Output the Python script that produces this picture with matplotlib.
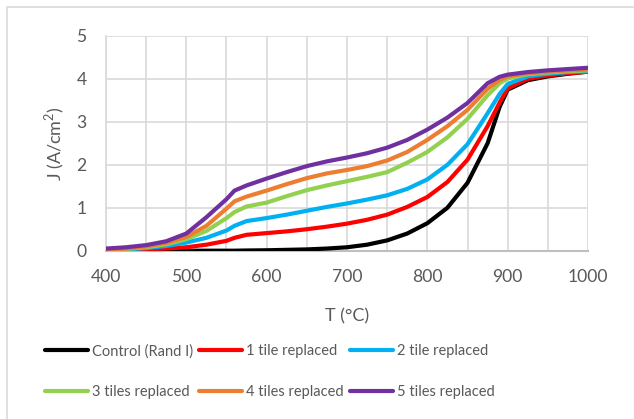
import matplotlib
matplotlib.use("Agg")
import matplotlib.pyplot as plt
from matplotlib.patches import Rectangle
from matplotlib.ticker import MultipleLocator

plt.rcParams['font.family'] = ['Lato', 'DejaVu Sans']

T = [400, 425, 450, 475, 500, 525, 550, 560, 575, 600, 625, 650, 675, 700,
     725, 750, 775, 800, 825, 850, 875, 890, 900, 925, 950, 975, 1000]

control = [0, 0, 0, 0, 0, 0, 0, 0, 0.005, 0.01, 0.02, 0.03, 0.05, 0.08,
           0.14, 0.24, 0.40, 0.64, 1.00, 1.58, 2.50, 3.35, 3.75, 3.97, 4.06, 4.12, 4.17]
tile1 = [0.0, 0.01, 0.03, 0.05, 0.08, 0.14, 0.23, 0.30, 0.37, 0.41, 0.45, 0.50, 0.56, 0.63,
         0.72, 0.84, 1.02, 1.25, 1.60, 2.12, 2.90, 3.45, 3.78, 4.00, 4.08, 4.13, 4.17]
tile2 = [0.01, 0.03, 0.06, 0.11, 0.19, 0.30, 0.47, 0.58, 0.69, 0.76, 0.84, 0.93, 1.02, 1.10,
         1.19, 1.29, 1.44, 1.66, 2.00, 2.48, 3.20, 3.65, 3.88, 4.06, 4.12, 4.16, 4.18]
tile3 = [0.01, 0.04, 0.08, 0.15, 0.27, 0.46, 0.76, 0.90, 1.03, 1.12, 1.27, 1.41, 1.52, 1.62,
         1.72, 1.83, 2.05, 2.30, 2.64, 3.07, 3.62, 3.90, 4.01, 4.11, 4.15, 4.18, 4.20]
tile4 = [0.02, 0.05, 0.10, 0.18, 0.32, 0.58, 0.98, 1.15, 1.26, 1.40, 1.55, 1.69, 1.80, 1.88,
         1.97, 2.10, 2.30, 2.58, 2.90, 3.28, 3.77, 3.98, 4.06, 4.13, 4.17, 4.20, 4.22]
tile5 = [0.05, 0.08, 0.13, 0.22, 0.40, 0.78, 1.20, 1.40, 1.52, 1.68, 1.83, 1.97, 2.08, 2.17,
         2.27, 2.40, 2.58, 2.82, 3.10, 3.44, 3.90, 4.05, 4.10, 4.16, 4.20, 4.23, 4.26]

labels = ["Control (Rand I)", "1 tile replaced", "2 tile replaced",
          "3 tiles replaced", "4 tiles replaced", "5 tiles replaced"]
series = [control, tile1, tile2, tile3, tile4, tile5]
colors = ["#000000", "#FF0000", "#00B0F0", "#92D050", "#ED7D31", "#7030A0"]

fig = plt.figure(figsize=(6.34, 4.19), dpi=100)
fig.patches.append(Rectangle((7/634, -0.1), 2, 1 - 7/419 + 0.1, transform=fig.transFigure,
                             fill=False, edgecolor="#d9d9d9", linewidth=1.2))
ax = fig.add_axes([106/634, 1 - 250.7/419, (588-106)/634, (250.7-36)/419])

handles = []
for y, c, lab in zip(series, colors, labels):
    h, = ax.plot(T, y, color=c, lw=3, label=lab, solid_capstyle='round', zorder=3)
    handles.append(h)

ax.set_xlim(400, 1000)
ax.set_ylim(0, 5)
ax.xaxis.set_major_locator(MultipleLocator(100))
ax.xaxis.set_minor_locator(MultipleLocator(50))
ax.yaxis.set_major_locator(MultipleLocator(1))
ax.grid(True, which='both', color="#d9d9d9", lw=1.2, zorder=0)
ax.tick_params(which='both', length=0, labelsize=12.6, colors="#595959")
ax.tick_params(axis='x', pad=13)
ax.tick_params(axis='y', pad=14)
for s in ['top', 'right']:
    ax.spines[s].set_visible(False)
ax.spines['left'].set_color("#d9d9d9")
ax.spines['left'].set_linewidth(1.2)
ax.spines['bottom'].set_color("#bfbfbf")
ax.spines['bottom'].set_linewidth(1.5)

ax.set_xlabel("T (°C)", fontsize=13, color="#595959", va='center')
ax.set_ylabel("J (A/cm$^\\mathregular{2}$)", fontsize=13, color="#595959", va='center')
ax.xaxis.set_label_coords(0.5, (250.7 - 316) / 214.7)
ax.yaxis.set_label_coords((55 - 106) / 482, 0.5)

order = [0, 3, 1, 4, 2, 5]
leg = fig.legend([handles[i] for i in order], [labels[i] for i in order],
                 loc='upper left', bbox_to_anchor=(45/634, 1 - 344/419),
                 ncol=3, frameon=False, fontsize=10.5, handlelength=2.95, handletextpad=0.28,
                 columnspacing=0.4, labelspacing=1.85, borderpad=0, borderaxespad=0)
for t in leg.get_texts():
    t.set_color("#595959")

fig.savefig("out.png", dpi=100)
